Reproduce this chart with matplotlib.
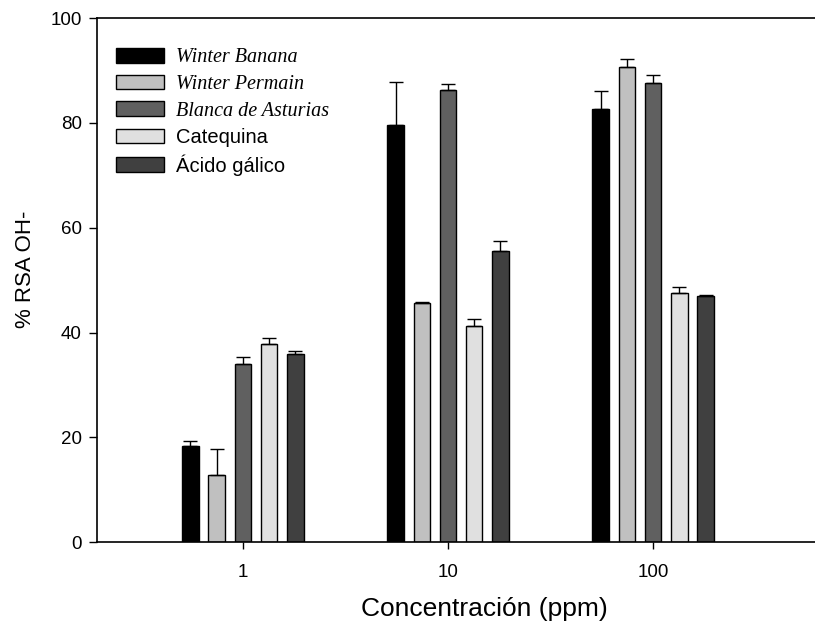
import numpy as np
import matplotlib
matplotlib.use("Agg")
import matplotlib.pyplot as plt
from matplotlib.patches import Patch

plt.rcParams['font.family'] = ['Liberation Sans', 'DejaVu Sans']

# datos
concentraciones = ['1', '10', '100']
series = ['Winter Banana', 'Winter Permain', 'Blanca de Asturias', 'Catequina', 'Ácido gálico']
winter_banana = [18.4, 79.6, 82.6]
winter_permain = [12.8, 45.7, 90.7]
blanca_asturias = [34.0, 86.3, 87.6]
catequina = [37.9, 41.2, 47.5]
acido_galico = [35.9, 55.6, 46.9]

err_winter_banana = [0.9, 8.2, 3.5]
err_winter_permain = [4.9, 0.2, 1.5]
err_blanca_asturias = [1.3, 1.1, 1.5]
err_catequina = [1.0, 1.4, 1.1]
err_acido_galico = [0.6, 1.8, 0.2]

valores = [winter_banana, winter_permain, blanca_asturias, catequina, acido_galico]
errores = [err_winter_banana, err_winter_permain, err_blanca_asturias, err_catequina, err_acido_galico]
colores = ['#000000', '#c0c0c0', '#606060', '#e0e0e0', '#404040']

fig = plt.figure(figsize=(8.15, 6.26), dpi=100)
ax = fig.add_axes([0.119, 0.134, 0.881, 0.837])

x = np.arange(len(concentraciones))
ancho = 0.0805
paso = 0.128

handles = []
for i, (vals, errs, col) in enumerate(zip(valores, errores, colores)):
    pos = x + (i - 2) * paso
    ax.bar(pos, vals, width=ancho, color=col, edgecolor='black', linewidth=1.0, zorder=2)
    ax.errorbar(pos, vals, yerr=[np.zeros(len(errs)), errs], fmt='none',
                ecolor='black', elinewidth=1.0, capsize=5, capthick=1.0, zorder=3)
    handles.append(Patch(facecolor=col, edgecolor='black', linewidth=1.0))

ax.set_xlim(-0.712, 2.79)
ax.set_ylim(0, 100)
ax.set_xticks(x)
ax.set_xticklabels(concentraciones)
ax.set_yticks([0, 20, 40, 60, 80, 100])
ax.tick_params(axis='both', direction='out', width=1.0, labelsize=13.5)
ax.tick_params(axis='x', length=5, pad=11)
ax.tick_params(axis='y', length=6, pad=5)

ax.spines['right'].set_visible(False)
for s in ['left', 'bottom', 'top']:
    ax.spines[s].set_linewidth(1.2)

# el eje original sigue más allá del recorte derecho: la etiqueta queda algo a la derecha
ax.set_xlabel('Concentración (ppm)', fontsize=19)
ax.xaxis.set_label_coords(0.54, -0.105)
ax.set_ylabel('% RSA OH-', fontsize=16)
ax.yaxis.set_label_coords(-0.085, 0.52)

leg = ax.legend(handles, series, loc='upper left', bbox_to_anchor=(0.026, 0.943),
                frameon=False, fontsize=14.5, borderpad=0, borderaxespad=0,
                handlelength=2.4, handleheight=0.75, labelspacing=0.36, handletextpad=0.6)
for t in leg.get_texts()[:3]:
    t.set_family(['Liberation Serif', 'DejaVu Serif'])
    t.set_style('italic')

plt.savefig('out.png', dpi=100)
